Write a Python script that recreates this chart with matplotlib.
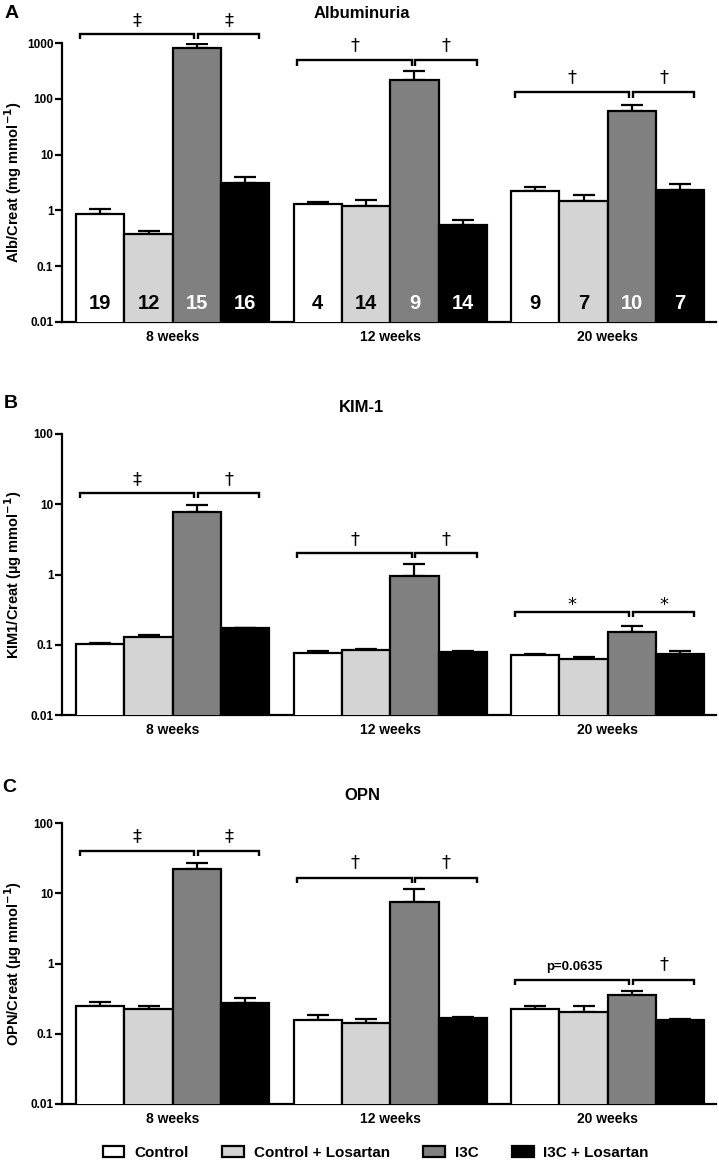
import numpy as np
import matplotlib
matplotlib.use("Agg")
import matplotlib.pyplot as plt
from matplotlib.patches import Patch
from matplotlib.ticker import FixedLocator, FuncFormatter

plt.rcParams['font.family'] = ['Liberation Sans', 'DejaVu Sans']

# ---------------- data ----------------
groups = ['8 weeks', '12 weeks', '20 weeks']
series = ['Control', 'Control + Losartan', 'I3C', 'I3C + Losartan']
colors = ['#ffffff', '#d4d4d4', '#808080', '#000000']

# Albuminuria (mg/mmol)
alb_control = [0.87, 1.30, 2.24]
alb_control_los = [0.37, 1.18, 1.49]
alb_i3c = [810, 215, 61]
alb_i3c_los = [3.1, 0.555, 2.34]
alb_control_sem = [0.19, 0.11, 0.37]
alb_control_los_sem = [0.06, 0.35, 0.39]
alb_i3c_sem = [150, 100, 18]
alb_i3c_los_sem = [0.85, 0.11, 0.61]
alb_n = [[19, 12, 15, 16], [4, 14, 9, 14], [9, 7, 10, 7]]

# KIM-1 (ug/mmol)
kim_control = [0.102, 0.076, 0.0705]
kim_control_los = [0.127, 0.083, 0.0625]
kim_i3c = [7.7, 0.955, 0.151]
kim_i3c_los = [0.171, 0.080, 0.0745]
kim_control_sem = [0.003, 0.006, 0.0025]
kim_control_los_sem = [0.009, 0.003, 0.005]
kim_i3c_sem = [1.9, 0.46, 0.033]
kim_i3c_los_sem = [0.005, 0.002, 0.0065]

# OPN (ug/mmol)
opn_control = [0.248, 0.157, 0.222]
opn_control_los = [0.222, 0.144, 0.206]
opn_i3c = [21.9, 7.6, 0.36]
opn_i3c_los = [0.276, 0.167, 0.155]
opn_control_sem = [0.035, 0.028, 0.028]
opn_control_los_sem = [0.026, 0.016, 0.042]
opn_i3c_sem = [4.7, 4.0, 0.04]
opn_i3c_los_sem = [0.046, 0.009, 0.008]

# significance labels per group: (left bracket label, right bracket label)
alb_sig = [['‡', '‡'], ['†', '†'], ['†', '†']]
kim_sig = [['‡', '†'], ['†', '†'], ['*', '*']]
opn_sig = [['‡', '‡'], ['†', '†'], ['p=0.0635', '†']]

# ---------------- figure ----------------
W, H = 719, 1163
fig = plt.figure(figsize=(W / 100, H / 100), dpi=100)


def px_rect(left, top, right, bottom):
    return [left / W, 1 - bottom / H, (right - left) / W, (bottom - top) / H]


centers = np.array([0.0, 4.5, 9.0])
offsets = [-1.5, -0.5, 0.5, 1.5]
bw = 1.0
XLIM = (-2.29, 11.24)


def make_panel(rect, means, sems, ylim, yticks, ylabel, sig, bracket_y, sym_y,
               nlabels=None):
    ax = fig.add_axes(rect)
    ax.set_yscale('log')
    for i, (m, s, c) in enumerate(zip(means, sems, colors)):
        x = centers + offsets[i]
        ax.bar(x, m, width=bw, color=c, edgecolor='black', linewidth=1.6,
               zorder=3)
        ax.errorbar(x, m, yerr=[np.zeros(len(m)), s], fmt='none',
                    ecolor='black', elinewidth=1.6, capsize=8, capthick=1.6,
                    zorder=2)
    ax.set_ylim(*ylim)
    ax.set_xlim(*XLIM)
    ax.yaxis.set_major_locator(FixedLocator(yticks))
    ax.yaxis.set_minor_locator(FixedLocator([]))
    ax.yaxis.set_major_formatter(FuncFormatter(lambda v, p: '%g' % v))
    ax.set_xticks(centers)
    ax.set_xticklabels(groups, fontweight='bold', fontsize=10)
    ax.tick_params(axis='x', length=0, pad=6)
    ax.tick_params(axis='y', length=5, width=1.6, pad=1.2, labelsize=8.5)
    for lab in ax.get_yticklabels():
        lab.set_fontweight('bold')
    for sp in ['top', 'right']:
        ax.spines[sp].set_visible(False)
    for sp in ['left', 'bottom']:
        ax.spines[sp].set_linewidth(1.6)
    ax.set_ylabel(ylabel, fontweight='bold', fontsize=10.5)
    ax.yaxis.set_label_coords(-0.058, 0.5)

    trans = ax.get_xaxis_transform()
    drop = 0.02
    for g, c in enumerate(centers):
        yb = bracket_y[g]
        for (x0, x1), lab, ys in zip([(-1.92, 0.45), (0.52, 1.79)], sig[g], sym_y[g]):
            ax.plot([c + x0, c + x0, c + x1, c + x1], [yb - drop, yb, yb, yb - drop],
                    color='black', lw=1.7, transform=trans, clip_on=False,
                    solid_capstyle='butt', solid_joinstyle='miter', zorder=4)
            if lab.startswith('p'):
                ax.text(c + (x0 + x1) / 2 + 0.05, ys, lab, transform=trans,
                        ha='center', va='center', fontsize=9.5, fontweight='bold')
            else:
                ax.text(c + (x0 + x1) / 2, ys, lab, transform=trans,
                        ha='center', va='center', fontsize=13,
                        family=['DejaVu Sans'])
    if nlabels is not None:
        for g, c in enumerate(centers):
            for i in range(4):
                col = 'white' if i >= 2 else 'black'
                ax.text(c + offsets[i], 0.068, str(nlabels[g][i]), transform=trans,
                        ha='center', va='center', fontsize=14.5,
                        fontweight='bold', color=col, zorder=5)
    return ax


axA = make_panel(px_rect(62, 43, 716, 322),
                 [alb_control, alb_control_los, alb_i3c, alb_i3c_los],
                 [alb_control_sem, alb_control_los_sem, alb_i3c_sem, alb_i3c_los_sem],
                 (0.01, 1000), [0.01, 0.1, 1, 10, 100, 1000],
                 'Alb/Creat (mg mmol$^{\\mathbf{-1}}$)', alb_sig,
                 [1.034, 0.939, 0.824],
                 [[1.082, 1.082], [0.991, 0.991], [0.877, 0.877]],
                 nlabels=alb_n)
axB = make_panel(px_rect(62, 434, 716, 715),
                 [kim_control, kim_control_los, kim_i3c, kim_i3c_los],
                 [kim_control_sem, kim_control_los_sem, kim_i3c_sem, kim_i3c_los_sem],
                 (0.01, 100), [0.01, 0.1, 1, 10, 100],
                 'KIM1/Creat (µg mmol$^{\\mathbf{-1}}$)', kim_sig,
                 [0.791, 0.578, 0.367],
                 [[0.839, 0.839], [0.626, 0.626], [0.390, 0.390]])
axC = make_panel(px_rect(62, 823, 716, 1104),
                 [opn_control, opn_control_los, opn_i3c, opn_i3c_los],
                 [opn_control_sem, opn_control_los_sem, opn_i3c_sem, opn_i3c_los_sem],
                 (0.01, 100), [0.01, 0.1, 1, 10, 100],
                 'OPN/Creat (µg mmol$^{\\mathbf{-1}}$)', opn_sig,
                 [0.901, 0.805, 0.442],
                 [[0.953, 0.953], [0.860, 0.860], [0.487, 0.498]])

# titles and panel letters
for txt, y in [('Albuminuria', 13), ('KIM-1', 407), ('OPN', 795)]:
    fig.text(362 / W, 1 - y / H, txt, ha='center', va='center',
             fontsize=12, fontweight='bold')
for txt, x, y in [('A', 12, 13), ('B', 11, 403), ('C', 9, 788)]:
    fig.text(x / W, 1 - y / H, txt, ha='center', va='center',
             fontsize=14, fontweight='bold')

handles = [Patch(facecolor=c, edgecolor='black', linewidth=1.6) for c in colors]
fig.legend(handles, series, loc='center', bbox_to_anchor=(376 / W, 1 - 1153 / H),
           ncol=4, frameon=False, prop={'weight': 'bold', 'size': 11},
           handlelength=1.4, handleheight=0.78, handletextpad=0.65,
           columnspacing=2.2, borderpad=0)

fig.savefig('out.png', dpi=100)
